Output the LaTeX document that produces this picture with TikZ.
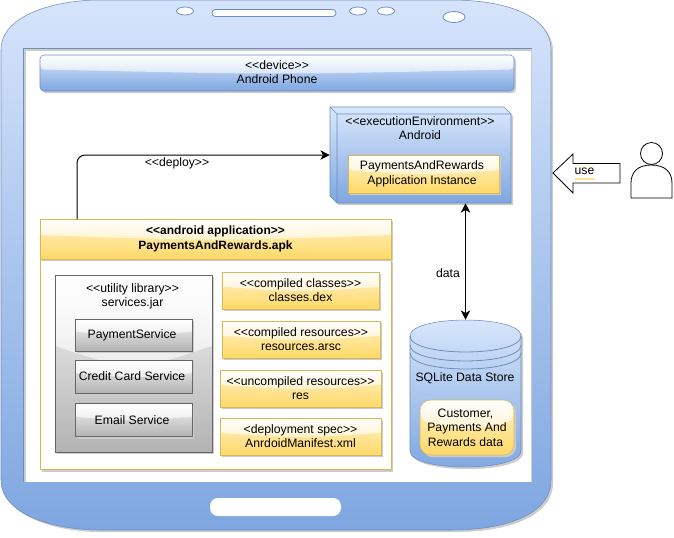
\documentclass[tikz,border=0pt]{standalone}
\usepackage{fontspec}
\newfontfamily\diagfont{Liberation Sans}
\usetikzlibrary{arrows.meta,calc,shadows,fadings,shapes.geometric}
\definecolor{phonetop}{HTML}{D6E4FB}
\definecolor{bluetop}{HTML}{DAE8FC}
\definecolor{bluebot}{HTML}{7EA6E0}
\definecolor{blueline}{HTML}{6C8EBF}
\definecolor{yeltop}{HTML}{FFF2CC}
\definecolor{yelbot}{HTML}{FFD966}
\definecolor{yelline}{HTML}{D6B656}
\definecolor{greytop}{HTML}{F5F5F5}
\definecolor{greybot}{HTML}{B3B3B3}
\definecolor{greyline}{HTML}{666666}
\definecolor{shadowgrey}{HTML}{CCCCCC}
\tikzfading[name=glossfade, top color=transparent!8, bottom color=transparent!82]
\newcommand{\lft}{\hspace*{2.2pt}}
\tikzset{
  x=.75pt, y=-.75pt,
  every node/.style={font=\diagfont\fontsize{9.15pt}{11pt}\selectfont, inner sep=0pt, align=center, text=black},
  sz/.style 2 args={minimum width=#1*.75pt, minimum height=#2*.75pt},
  softshadow/.style={drop shadow={shadow xshift=1.6pt, shadow yshift=-1.6pt, fill=shadowgrey, opacity=1}},
  gloss/.style={path picture={
    \fill[white, path fading=glossfade]
      (path picture bounding box.north west) -- (path picture bounding box.north east)
      -- ($(path picture bounding box.south east)!.6!(path picture bounding box.north east)$)
      .. controls ($(path picture bounding box.south)!.45!(path picture bounding box.north)$)
      .. ($(path picture bounding box.south west)!.6!(path picture bounding box.north west)$)
      -- cycle;},
    append after command={\pgfextra{\let\glossnode\tikzlastnode}
      [draw=white, draw opacity=.7, line width=.6pt]
      ($(\glossnode.south west)!.6!(\glossnode.north west)$) -- (\glossnode.north west)
      -- (\glossnode.north east) -- ($(\glossnode.south east)!.6!(\glossnode.north east)$)}},
  yellowbox/.style={draw=yelline, top color=yeltop, bottom color=yelbot, softshadow, gloss},
  bluebox/.style={draw=blueline, top color=bluetop, bottom color=bluebot, softshadow, gloss},
  greybox/.style={draw=greyline, top color=greytop, bottom color=greybot, softshadow, gloss},
  flow/.style={draw=black, line width=.75pt, rounded corners=6pt},
  tip/.style={-{Stealth[length=7pt,width=7pt,inset=2pt]}},
  twotip/.style={{Stealth[length=7pt,width=7pt,inset=2pt]}-{Stealth[length=7pt,width=7pt,inset=2pt]}},
}
\begin{document}
\begin{tikzpicture}
\useasboundingbox (0,0) rectangle (674,537);
% phone body
\path[draw=blueline, top color=phonetop, bottom color=bluebot, drop shadow={shadow xshift=1.6pt, shadow yshift=-1.6pt, fill=shadowgrey, opacity=1}]
  (1,50) .. controls (1,15) and (55,0) .. (100,0) -- (451,0)
  .. controls (505,0) and (551,15) .. (551,50) -- (551,480)
  .. controls (551,515) and (505,530) .. (451,530) -- (100,530)
  .. controls (55,530) and (1,515) .. (1,480) -- cycle;
% screen
\fill[shadowgrey] (23,48) rectangle (531.5,482);
\fill[white] (25.5,51) rectangle (530.5,482);
\draw[blueline, line width=.5pt] (531.5,48) -- (23,48) -- (23,482);
% sensors and buttons
\tikzset{hole/.style={draw=blueline, fill=white, line width=.6pt}}
\node[hole, ellipse, sz={17}{8}] (s1) at (185,11) {};
\node[hole, rounded corners=2.5pt, sz={124}{7}] (s2) at (274,13) {};
\node[hole, ellipse, sz={17}{8}] (s3) at (358,11) {};
\node[hole, ellipse, sz={17}{8}] (s4) at (386,11) {};
\node[hole, ellipse, sz={22}{11}] (s5) at (454,17) {};
\node[fill=white, rounded corners=6pt, sz={131}{18}] (homekey) at (275.5,507) {};
% device bar
\node[bluebox, rounded corners=3pt, sz={474}{36}] (device) at (277,73) {\raisebox{1.2pt}{<<device>>}\\\raisebox{1.2pt}{Android Phone}};
% execution environment (3D node)
\node[sz={181}{96}] (env) at (420.5,155) {};
\path[draw=blueline, top color=bluetop, bottom color=bluebot, softshadow]
  (330,107) -- (504,107) -- (511,114) -- (511,203) -- (337,203) -- (330,196) -- cycle;
\draw[blueline, line width=.5pt] (330,107) -- (337,114) -- (511,114) (337,114) -- (337,203);
\node (envtext) at (420,128) {<<executionEnvironment>>\\Android};
\node[yellowbox, sz={151}{38}] (inst) at (423.5,174) {\raisebox{.8pt}{PaymentsAndRewards\lft}\\\raisebox{.8pt}{Application Instance\lft}};
% apk package
\node[draw=yelline, fill=white, drop shadow={shadow xshift=1.6pt, shadow yshift=-1.6pt, fill=shadowgrey, opacity=1}, sz={351}{210}] (apkbody) at (215.5,364.5) {};
\node[yellowbox, sz={351}{40}] (apk) at (215.5,239) {\textbf{\fontsize{9pt}{11pt}\selectfont <<android application>>}\\\textbf{\fontsize{9pt}{11pt}\selectfont PaymentsAndRewards.apk}};
% utility library
\node[greybox, sz={157}{177}] (util) at (133.5,363.5) {};
\node (utiltext) at (132.5,296.5) {<<utility library>>\\services.jar};
\node[greybox, sz={117}{32}] (pay) at (133.5,335) {PaymentService\lft};
\node[greybox, sz={117}{33}] (card) at (133.5,376.5) {Credit Card Service\lft};
\node[greybox, sz={117}{33}] (mail) at (133.5,420) {Email Service\lft};
% artefacts
\node[yellowbox, sz={157}{37}] (classes) at (300.5,290.5) {\raisebox{.8pt}{<<compiled classes>>}\\\raisebox{.8pt}{classes.dex}};
\node[yellowbox, sz={158}{37}] (res1) at (301,339.5) {\raisebox{.8pt}{<<compiled resources>>}\\\raisebox{.8pt}{resources.arsc}};
\node[yellowbox, sz={161}{37}] (res2) at (300.5,388.5) {\raisebox{.8pt}{<<uncompiled resources>>}\\\raisebox{.8pt}{res}};
\node[yellowbox, sz={161}{37}] (manifest) at (300.5,436.5) {\raisebox{.8pt}{<deployment spec>>}\\\raisebox{.8pt}{AnrdoidManifest.xml}};
% data store
\node[sz={111}{147}] (db) at (465.5,393.5) {};
\path[draw=blueline, top color=bluetop, bottom color=bluebot, softshadow]
  (410,336) .. controls (410,314.7) and (521,314.7) .. (521,336) -- (521,451)
  .. controls (521,472.3) and (410,472.3) .. (410,451) -- cycle;
\foreach \yy in {336,345,353}
  \draw[blueline, line width=.6pt] (410,\yy) .. controls (410,\yy+21.3) and (521,\yy+21.3) .. (521,\yy);
\node (dbtext) at (465,378) {SQLite Data Store};
\node[yellowbox, rounded corners=8pt, sz={94}{55}] (dbdata) at (467,427.5) {Customer,\lft\\Payments And\lft\\Rewards data\lft};
% connectors
\coordinate (deploystart) at (77,219);
\draw[flow, tip] (deploystart) |- (env.west);
\node (deploylabel) at (177,163) {<<deploy>>};
\draw[flow, twotip] (db.north) -- (db.north |- env.south);
\node (datalabel) at (448,273) {data};
% use arrow
\path[draw=black, fill=white, line width=.6pt]
  (553,173) -- (573,154) -- (573,163.5) -- (620,163.5) -- (620,183) -- (573,183) -- (573,193) -- cycle;
\fill[yeltop] (575,165) rectangle (595,166);
\fill[yelbot!70!white] (575,178) rectangle (595,180);
\node (uselabel) at (584.5,171) {use};
% actor
\path[draw=black, fill=white, line width=.6pt]
  (631,198) -- (631,183) .. controls (631,172) and (638,165) .. (651,165)
  .. controls (665,165) and (672,172) .. (672,183) -- (672,198) -- cycle;
\node[draw=black, fill=white, line width=.6pt, circle, sz={22}{22}] (head) at (651.5,153.5) {};
\end{tikzpicture}
\end{document}
